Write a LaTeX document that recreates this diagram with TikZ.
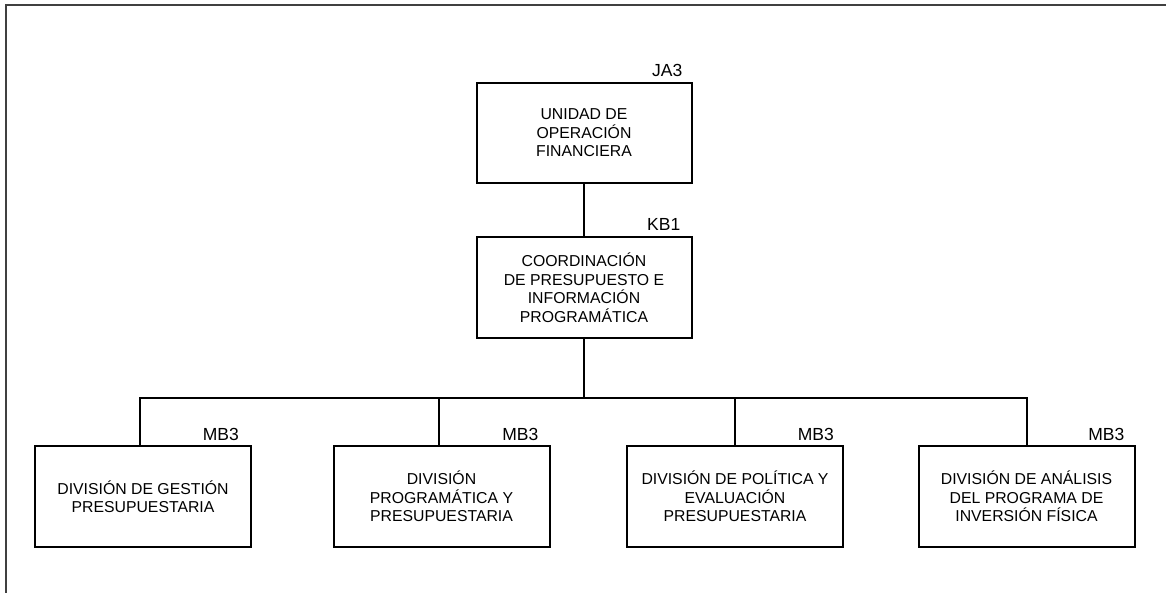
\documentclass[tikz,border=0pt]{standalone}
\usepackage{fontspec}
\setmainfont{Liberation Sans}
\usetikzlibrary{positioning}
\tikzset{
  basebox/.style={rectangle, draw=black, line width=2pt, align=center,
                  font=\fontsize{15.8}{18.5}\selectfont, inner sep=0pt},
  unitbox/.style={basebox, minimum width=215pt, minimum height=100pt},
  divbox/.style={basebox, minimum width=216pt, minimum height=101pt},
  codelabel/.style={font=\fontsize{17.5}{18}\selectfont, inner sep=0pt, anchor=south east},
  orgline/.style={line width=2pt, color=black},
  framedge/.style={line width=2.4pt, color=black!75}
}
\begin{document}
\begin{tikzpicture}[x=1pt, y=-1pt]
  \useasboundingbox (0,0) rectangle (1166,593);
  \draw[framedge] (6,593) -- (6,5) -- (1166,5);

  % upper levels
  \node[unitbox] (ufin) at (584,133)
      {UNIDAD DE\\OPERACIÓN\\FINANCIERA};
  \node[unitbox, minimum height=101pt] (cpres) at (584,287.5)
      {COORDINACIÓN\\DE PRESUPUESTO E\\INFORMACIÓN\\PROGRAMÁTICA};

  % divisions
  \node[divbox] (dgest) at (143,496.5)
      {DIVISIÓN DE GESTIÓN\\PRESUPUESTARIA};
  \node[divbox] (dprog) at (441.5,496.5)
      {DIVISIÓN\\PROGRAMÁTICA Y\\PRESUPUESTARIA};
  \node[divbox] (dpol) at (735,496.5)
      {DIVISIÓN DE POLÍTICA Y\\EVALUACIÓN\\PRESUPUESTARIA};
  \node[divbox] (dinv) at (1026.5,496.5)
      {DIVISIÓN DE ANÁLISIS\\DEL PROGRAMA DE\\INVERSIÓN FÍSICA};

  % level codes
  \node[codelabel, above left=5pt and 10pt of ufin.north east] (cja) {JA3};
  \node[codelabel, above left=5pt and 12pt of cpres.north east] (ckb) {KB1};
  \node[codelabel, above left=4pt and 13pt of dgest.north east] (cmb1) {MB3};
  \node[codelabel, above left=4pt and 12pt of dprog.north east] (cmb2) {MB3};
  \node[codelabel, above left=4pt and 10pt of dpol.north east] (cmb3) {MB3};
  \node[codelabel, above left=4pt and 11pt of dinv.north east] (cmb4) {MB3};

  % connectors
  \coordinate (bus) at (584,398);
  \draw[orgline] (ufin.south) -- (cpres.north);
  \draw[orgline] (cpres.south) -- (bus);
  \draw[orgline] ([xshift=-3pt]dgest.north) |- (bus) -| (dinv.north);
  \draw[orgline] ([xshift=-2.5pt]dprog.north) -- ([xshift=-2.5pt]dprog.north |- bus);
  \draw[orgline] (dpol.north) -- (dpol.north |- bus);
\end{tikzpicture}
\end{document}
